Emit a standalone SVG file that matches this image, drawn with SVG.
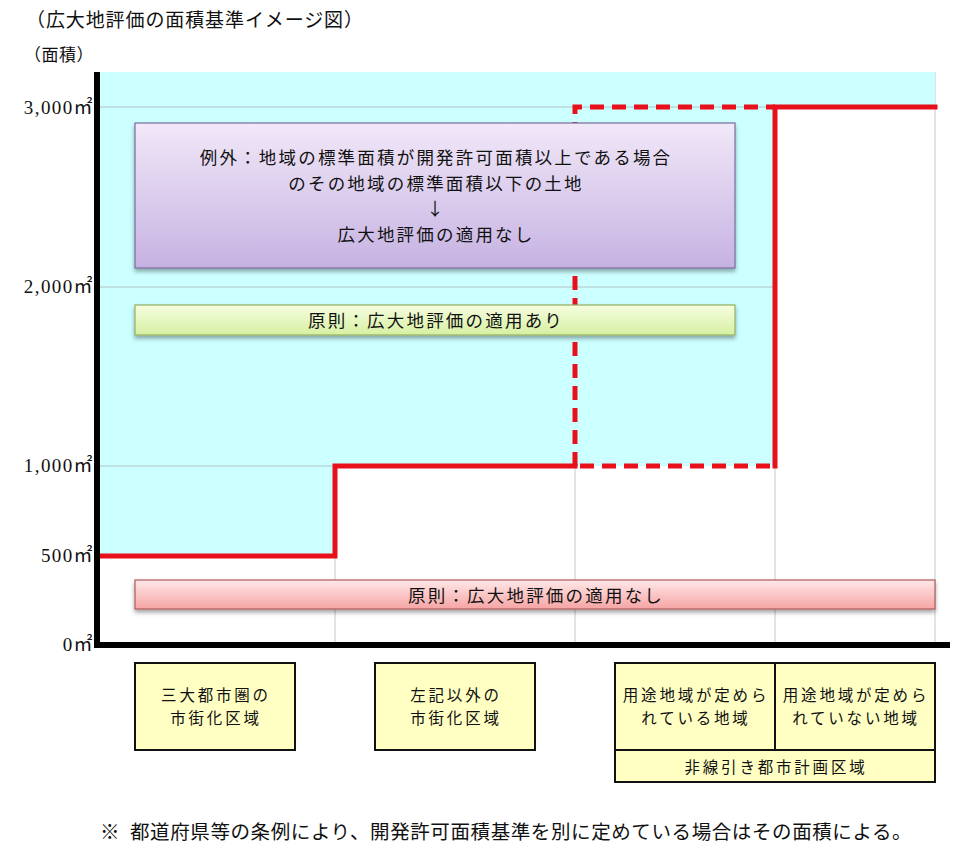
<svg xmlns="http://www.w3.org/2000/svg" width="980" height="856" viewBox="0 0 980 856">
<style>
  .jp { font-family: "Noto Sans CJK JP", "Noto Sans", sans-serif; fill: #111; }
  .num { font-family: "Liberation Serif", "Noto Sans CJK JP", serif; fill: #111; font-size: 19px; letter-spacing: 1.4px; }
  .grid { stroke: #b4c4c4; stroke-width: 1; fill: none; }
  .vgrid { stroke: #c8c8c8; stroke-width: 1; fill: none; }
  .step { stroke: #e8101a; stroke-width: 5; fill: none; stroke-linejoin: miter; stroke-linecap: square; }
  .dash { stroke: #e8101a; stroke-width: 5; fill: none; stroke-dasharray: 14 8; }
  .ybox { fill: #ffffc4; stroke: #111; stroke-width: 2; }
  .big { font-size: 17.5px; letter-spacing: 2.2px; }
  .small { font-size: 15.5px; letter-spacing: 2.8px; }
</style>
<defs>
  <linearGradient id="gPurple" x1="0" y1="0" x2="0" y2="1">
    <stop offset="0" stop-color="#f1e8f8"/>
    <stop offset="1" stop-color="#c6b2e2"/>
  </linearGradient>
  <linearGradient id="gGreen" x1="0" y1="0" x2="0" y2="1">
    <stop offset="0" stop-color="#f6fde0"/>
    <stop offset="1" stop-color="#d6f0a2"/>
  </linearGradient>
  <linearGradient id="gPink" x1="0" y1="0" x2="0" y2="1">
    <stop offset="0" stop-color="#ffe8e8"/>
    <stop offset="1" stop-color="#f6a4a4"/>
  </linearGradient>
  <filter id="shadow" x="-5%" y="-20%" width="110%" height="150%">
    <feDropShadow dx="0" dy="3" stdDeviation="2" flood-color="#000" flood-opacity="0.35"/>
  </filter>
</defs>

<rect width="980" height="856" fill="#ffffff"/>

<g id="titles">
  <text class="jp" x="26" y="27" font-size="19" letter-spacing="0.9">（広大地評価の面積基準イメージ図）</text>
  <text class="jp" x="24" y="61" font-size="17" letter-spacing="0.5">（面積）</text>
</g>

<g id="plot">
  <line class="vgrid" x1="335" y1="72" x2="335" y2="645"/>
  <line class="vgrid" x1="575" y1="72" x2="575" y2="645"/>
  <line class="vgrid" x1="775" y1="72" x2="775" y2="645"/>
  <line class="vgrid" x1="935" y1="72" x2="935" y2="645"/>
  <polygon points="100,72 935,72 935,107 775,107 775,466 335,466 335,556 100,556" fill="#ccffff"/>
  <line class="grid" x1="100" y1="107" x2="935" y2="107"/>
  <line class="grid" x1="100" y1="287" x2="775" y2="287"/>
  <line class="grid" x1="100" y1="466" x2="335" y2="466"/>
</g>

<g id="connectors">
  <polyline class="step" points="100,556 335,556 335,466 575,466"/>
  <polyline class="step" points="775,466 775,107 935,107"/>
  <polyline class="dash" points="575,466 575,107 775,107"/>
  <line class="dash" x1="580" y1="466" x2="775" y2="466"/>
</g>

<g id="axes">
  <line x1="97" y1="72" x2="97" y2="648" stroke="#000" stroke-width="6"/>
  <line x1="94" y1="645" x2="950" y2="645" stroke="#000" stroke-width="6"/>
</g>

<g id="axis-labels">
  <text class="num" x="94" y="114" text-anchor="end">3,000㎡</text>
  <text class="num" x="94" y="293" text-anchor="end">2,000㎡</text>
  <text class="num" x="94" y="472" text-anchor="end">1,000㎡</text>
  <text class="num" x="94" y="562" text-anchor="end">500㎡</text>
  <text class="num" x="94" y="651" text-anchor="end">0㎡</text>
</g>

<g id="node-exception">
  <rect x="135" y="123" width="600" height="145" fill="url(#gPurple)" stroke="#7a6c9c" stroke-width="1.2" filter="url(#shadow)"/>
  <text class="jp big" x="436" y="164" text-anchor="middle">例外：地域の標準面積が開発許可面積以上である場合</text>
  <text class="jp big" x="436" y="190" text-anchor="middle">のその地域の標準面積以下の土地</text>
  <text class="jp big" x="436" y="215" text-anchor="middle">↓</text>
  <text class="jp big" x="436" y="241" text-anchor="middle">広大地評価の適用なし</text>
</g>

<g id="node-principle-yes">
  <rect x="135" y="305" width="600" height="30" fill="url(#gGreen)" stroke="#94b060" stroke-width="1.2" filter="url(#shadow)"/>
  <text class="jp big" x="436" y="327" text-anchor="middle">原則：広大地評価の適用あり</text>
</g>

<g id="node-principle-no">
  <rect x="135" y="580" width="800" height="29" fill="url(#gPink)" stroke="#b05a5a" stroke-width="1.2" filter="url(#shadow)"/>
  <text class="jp big" x="536" y="602" text-anchor="middle">原則：広大地評価の適用なし</text>
</g>

<g id="node-sandai">
  <rect class="ybox" x="135" y="663" width="160" height="87"/>
  <text class="jp small" x="216" y="701" text-anchor="middle">三大都市圏の</text>
  <text class="jp small" x="216" y="724" text-anchor="middle">市街化区域</text>
</g>

<g id="node-other">
  <rect class="ybox" x="375" y="663" width="160" height="87"/>
  <text class="jp small" x="456" y="701" text-anchor="middle">左記以外の</text>
  <text class="jp small" x="456" y="724" text-anchor="middle">市街化区域</text>
</g>

<g id="node-hisenbiki">
  <rect class="ybox" x="615" y="663" width="320" height="119"/>
  <line x1="775" y1="663" x2="775" y2="750" stroke="#111" stroke-width="2"/>
  <line x1="615" y1="750" x2="935" y2="750" stroke="#111" stroke-width="2"/>
  <text class="jp small" x="696" y="701" text-anchor="middle">用途地域が定めら</text>
  <text class="jp small" x="696" y="724" text-anchor="middle">れている地域</text>
  <text class="jp small" x="856" y="701" text-anchor="middle">用途地域が定めら</text>
  <text class="jp small" x="856" y="724" text-anchor="middle">れていない地域</text>
  <text class="jp small" x="776" y="773" text-anchor="middle">非線引き都市計画区域</text>
</g>

<g id="footnote">
  <text class="jp" x="100" y="839" font-size="19.5" letter-spacing="0.6">※ <tspan x="130">都道府県等の条例により、開発許可面積基準を別に定めている場合はその面積による。</tspan></text>
</g>
</svg>
